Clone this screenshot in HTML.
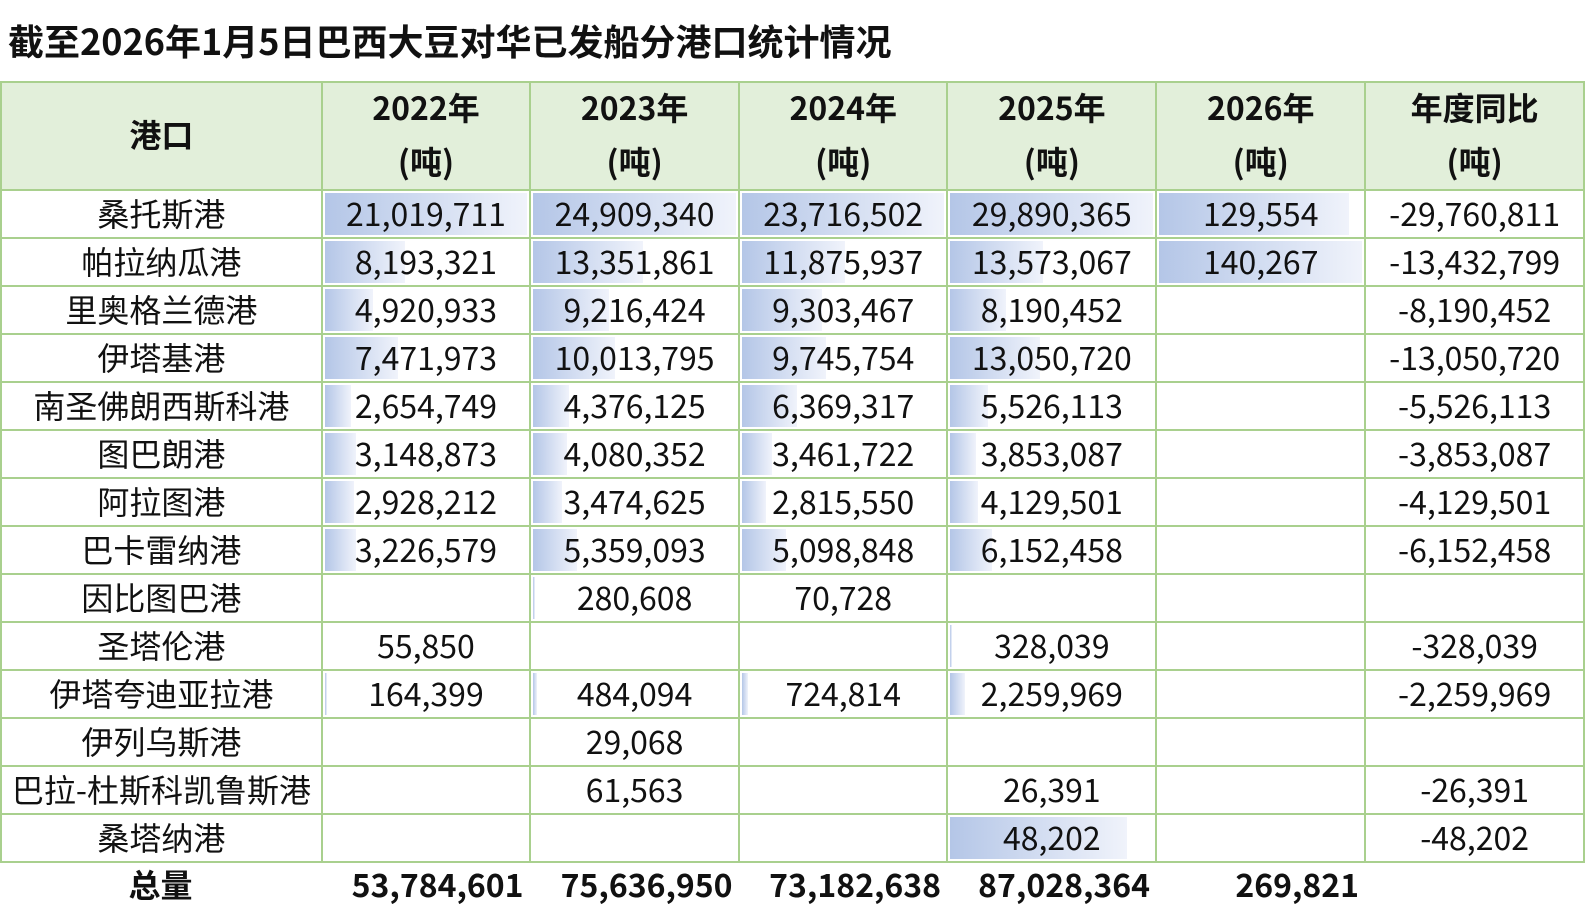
<!DOCTYPE html>
<html><head><meta charset="utf-8">
<style>
*{margin:0;padding:0;box-sizing:border-box}
body{width:1585px;height:912px;background:#fff;position:relative;overflow:hidden;font-family:"Liberation Sans","Noto Sans CJK SC",sans-serif;color:#111}
.t{position:absolute;left:8px;top:17px;font-family:"Noto Sans CJK SC",sans-serif;font-weight:bold;font-size:36px;line-height:46px;white-space:nowrap}
.tb{position:absolute;left:0;top:81px;width:1585px;border-top:2px solid #a9d08e;border-left:2px solid #a9d08e}
.r{display:flex;height:48px}
.h{height:107.7px;background:#e2efda}
.c{position:relative;border-right:2px solid #a9d08e;border-bottom:2px solid #a9d08e;font-family:"Noto Sans CJK SC",sans-serif;font-size:32px;display:flex;align-items:center;justify-content:center;white-space:nowrap;padding-bottom:2px}
.c span{position:relative}
.w0{width:321px}.w1{width:208.5px}.w2{width:209px}.w3{width:208.5px}.w4{width:209px}.w5{width:209px}.w6{width:219px}
.h .c{font-weight:bold;flex-direction:column;line-height:54px;padding-bottom:4px}
.b{position:absolute;left:2px;top:2px;bottom:2px;background:linear-gradient(to right,#b4c6e7,#f0f3fb)}
.tot{position:absolute;left:0;top:860px;display:flex;height:48px}
.tot div{font-family:"Noto Sans CJK SC",sans-serif;font-weight:bold;font-size:32px;display:flex;align-items:center;justify-content:flex-end;padding-right:6px}
</style></head><body>
<div class="t">截至2026年1月5日巴西大豆对华已发船分港口统计情况</div>
<div class="tb">
<div class="r h"><div class="c w0"><span>港口</span></div><div class="c w1"><span>2022年</span><span>(吨)</span></div><div class="c w2"><span>2023年</span><span>(吨)</span></div><div class="c w3"><span>2024年</span><span>(吨)</span></div><div class="c w4"><span>2025年</span><span>(吨)</span></div><div class="c w5"><span>2026年</span><span>(吨)</span></div><div class="c w6"><span>年度同比</span><span>(吨)</span></div></div>
<div class="r"><div class="c w0"><span>桑托斯港</span></div><div class="c w1"><i class="b" style="width:202px"></i><span>21,019,711</span></div><div class="c w2"><i class="b" style="width:203px"></i><span>24,909,340</span></div><div class="c w3"><i class="b" style="width:202px"></i><span>23,716,502</span></div><div class="c w4"><i class="b" style="width:203px"></i><span>29,890,365</span></div><div class="c w5"><i class="b" style="width:190px"></i><span>129,554</span></div><div class="c w6"><span>-29,760,811</span></div></div>
<div class="r"><div class="c w0"><span>帕拉纳瓜港</span></div><div class="c w1"><i class="b" style="width:80px"></i><span>8,193,321</span></div><div class="c w2"><i class="b" style="width:110px"></i><span>13,351,861</span></div><div class="c w3"><i class="b" style="width:103px"></i><span>11,875,937</span></div><div class="c w4"><i class="b" style="width:93px"></i><span>13,573,067</span></div><div class="c w5"><i class="b" style="width:203px"></i><span>140,267</span></div><div class="c w6"><span>-13,432,799</span></div></div>
<div class="r"><div class="c w0"><span>里奥格兰德港</span></div><div class="c w1"><i class="b" style="width:48px"></i><span>4,920,933</span></div><div class="c w2"><i class="b" style="width:76px"></i><span>9,216,424</span></div><div class="c w3"><i class="b" style="width:80px"></i><span>9,303,467</span></div><div class="c w4"><i class="b" style="width:56px"></i><span>8,190,452</span></div><div class="c w5"></div><div class="c w6"><span>-8,190,452</span></div></div>
<div class="r"><div class="c w0"><span>伊塔基港</span></div><div class="c w1"><i class="b" style="width:73px"></i><span>7,471,973</span></div><div class="c w2"><i class="b" style="width:82px"></i><span>10,013,795</span></div><div class="c w3"><i class="b" style="width:84px"></i><span>9,745,754</span></div><div class="c w4"><i class="b" style="width:90px"></i><span>13,050,720</span></div><div class="c w5"></div><div class="c w6"><span>-13,050,720</span></div></div>
<div class="r"><div class="c w0"><span>南圣佛朗西斯科港</span></div><div class="c w1"><i class="b" style="width:26px"></i><span>2,654,749</span></div><div class="c w2"><i class="b" style="width:36px"></i><span>4,376,125</span></div><div class="c w3"><i class="b" style="width:55px"></i><span>6,369,317</span></div><div class="c w4"><i class="b" style="width:38px"></i><span>5,526,113</span></div><div class="c w5"></div><div class="c w6"><span>-5,526,113</span></div></div>
<div class="r"><div class="c w0"><span>图巴朗港</span></div><div class="c w1"><i class="b" style="width:31px"></i><span>3,148,873</span></div><div class="c w2"><i class="b" style="width:34px"></i><span>4,080,352</span></div><div class="c w3"><i class="b" style="width:30px"></i><span>3,461,722</span></div><div class="c w4"><i class="b" style="width:26px"></i><span>3,853,087</span></div><div class="c w5"></div><div class="c w6"><span>-3,853,087</span></div></div>
<div class="r"><div class="c w0"><span>阿拉图港</span></div><div class="c w1"><i class="b" style="width:29px"></i><span>2,928,212</span></div><div class="c w2"><i class="b" style="width:29px"></i><span>3,474,625</span></div><div class="c w3"><i class="b" style="width:24px"></i><span>2,815,550</span></div><div class="c w4"><i class="b" style="width:28px"></i><span>4,129,501</span></div><div class="c w5"></div><div class="c w6"><span>-4,129,501</span></div></div>
<div class="r"><div class="c w0"><span>巴卡雷纳港</span></div><div class="c w1"><i class="b" style="width:31px"></i><span>3,226,579</span></div><div class="c w2"><i class="b" style="width:44px"></i><span>5,359,093</span></div><div class="c w3"><i class="b" style="width:44px"></i><span>5,098,848</span></div><div class="c w4"><i class="b" style="width:42px"></i><span>6,152,458</span></div><div class="c w5"></div><div class="c w6"><span>-6,152,458</span></div></div>
<div class="r"><div class="c w0"><span>因比图巴港</span></div><div class="c w1"></div><div class="c w2"><i class="b" style="width:2px"></i><span>280,608</span></div><div class="c w3"><span>70,728</span></div><div class="c w4"></div><div class="c w5"></div><div class="c w6"></div></div>
<div class="r"><div class="c w0"><span>圣塔伦港</span></div><div class="c w1"><span>55,850</span></div><div class="c w2"></div><div class="c w3"></div><div class="c w4"><i class="b" style="width:2px"></i><span>328,039</span></div><div class="c w5"></div><div class="c w6"><span>-328,039</span></div></div>
<div class="r"><div class="c w0"><span>伊塔夸迪亚拉港</span></div><div class="c w1"><i class="b" style="width:2px"></i><span>164,399</span></div><div class="c w2"><i class="b" style="width:4px"></i><span>484,094</span></div><div class="c w3"><i class="b" style="width:6px"></i><span>724,814</span></div><div class="c w4"><i class="b" style="width:15px"></i><span>2,259,969</span></div><div class="c w5"></div><div class="c w6"><span>-2,259,969</span></div></div>
<div class="r"><div class="c w0"><span>伊列乌斯港</span></div><div class="c w1"></div><div class="c w2"><span>29,068</span></div><div class="c w3"></div><div class="c w4"></div><div class="c w5"></div><div class="c w6"></div></div>
<div class="r"><div class="c w0"><span>巴拉-杜斯科凯鲁斯港</span></div><div class="c w1"></div><div class="c w2"><span>61,563</span></div><div class="c w3"></div><div class="c w4"><span>26,391</span></div><div class="c w5"></div><div class="c w6"><span>-26,391</span></div></div>
<div class="r"><div class="c w0"><span>桑塔纳港</span></div><div class="c w1"></div><div class="c w2"></div><div class="c w3"></div><div class="c w4"><i class="b" style="width:177px"></i><span>48,202</span></div><div class="c w5"></div><div class="c w6"><span>-48,202</span></div></div>
</div>
<div class="tot">
<div style="width:321px;justify-content:center;padding:0">总量</div>
<div style="width:208.5px">53,784,601</div>
<div style="width:209px">75,636,950</div>
<div style="width:208.5px">73,182,638</div>
<div style="width:209px">87,028,364</div>
<div style="width:209px">269,821</div>
</div>
</body></html>
